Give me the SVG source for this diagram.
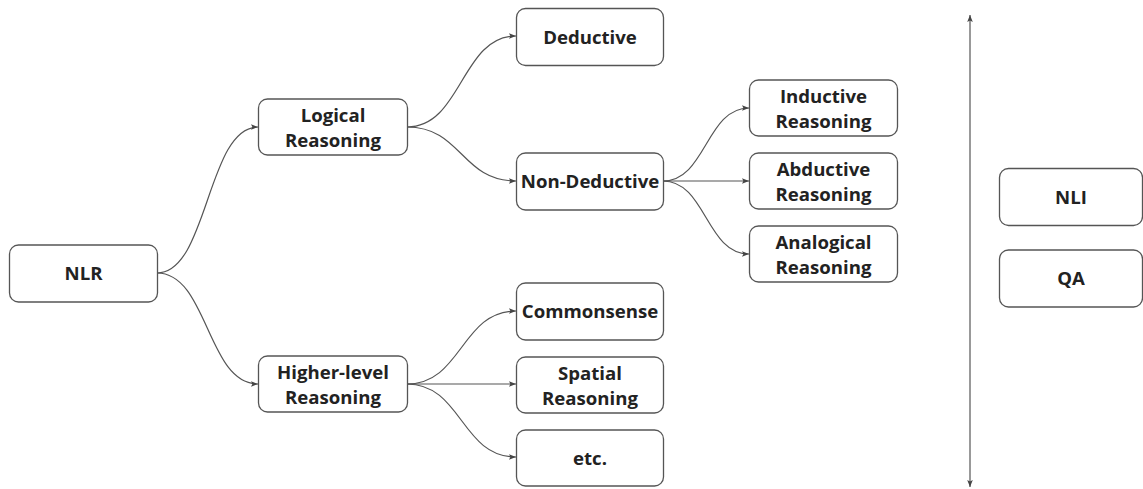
<svg xmlns="http://www.w3.org/2000/svg" width="1143" height="489" viewBox="0 0 1143 489">
<style>
.box{fill:#fff;stroke:#555;stroke-width:1.3}
.t{font-family:"Open Sans","Noto Sans",sans-serif;font-weight:700;font-size:18.6px;fill:#222;text-anchor:middle}
.c{fill:none;stroke:#555;stroke-width:1.2}
</style>
<defs>
<marker id="ah" viewBox="0 0 10 10" refX="10" refY="5" markerWidth="7" markerHeight="7" orient="auto-start-reverse" markerUnits="userSpaceOnUse">
<path d="M0,1 L10,5 L0,9 L2,5 z" fill="#444"/>
</marker>
</defs>
<rect width="1143" height="489" fill="#fff"/>
<g id="connectors">
<path class="c" marker-end="url(#ah)" d="M157,273 C208,273 207,127 258,127"/>
<path class="c" marker-end="url(#ah)" d="M157,273 C208,273 207,384 258,384"/>
<path class="c" marker-end="url(#ah)" d="M407,127 C462,127 461,36 516,36"/>
<path class="c" marker-end="url(#ah)" d="M407,127 C462,127 461,181 516,181"/>
<path class="c" marker-end="url(#ah)" d="M663,181 C706,181 706,108 749,108"/>
<path class="c" marker-end="url(#ah)" d="M663,181 L749,181"/>
<path class="c" marker-end="url(#ah)" d="M663,181 C706,181 706,254 749,254"/>
<path class="c" marker-end="url(#ah)" d="M407,384 C462,384 461,311 516,311"/>
<path class="c" marker-end="url(#ah)" d="M407,384 L516,384"/>
<path class="c" marker-end="url(#ah)" d="M407,384 C462,384 461,457 516,457"/>
<path class="c" marker-start="url(#ah)" marker-end="url(#ah)" d="M970,15 L970,487"/>
</g>
<g id="nlr"><rect class="box" x="9.5" y="245" width="148" height="57" rx="9"/><text class="t" x="83.5" y="280">NLR</text></g>
<g id="logical"><rect class="box" x="258.5" y="99" width="149" height="56" rx="9"/><text class="t" x="333" y="122">Logical</text><text class="t" x="333" y="147">Reasoning</text></g>
<g id="higher"><rect class="box" x="258.5" y="356" width="149" height="56" rx="9"/><text class="t" x="333" y="379">Higher-level</text><text class="t" x="333" y="404">Reasoning</text></g>
<g id="deductive"><rect class="box" x="516.5" y="8.5" width="147" height="57" rx="9"/><text class="t" x="590" y="43.5">Deductive</text></g>
<g id="nondeductive"><rect class="box" x="516.5" y="153" width="147" height="57" rx="9"/><text class="t" x="590" y="188">Non-Deductive</text></g>
<g id="commonsense"><rect class="box" x="516.5" y="283" width="147" height="57" rx="9"/><text class="t" x="590" y="318">Commonsense</text></g>
<g id="spatial"><rect class="box" x="516.5" y="357" width="147" height="56" rx="9"/><text class="t" x="590" y="380">Spatial</text><text class="t" x="590" y="405">Reasoning</text></g>
<g id="etc"><rect class="box" x="516.5" y="430" width="147" height="56" rx="9"/><text class="t" x="590" y="464.5">etc.</text></g>
<g id="inductive"><rect class="box" x="749.5" y="80" width="148" height="56" rx="9"/><text class="t" x="823.5" y="103">Inductive</text><text class="t" x="823.5" y="128">Reasoning</text></g>
<g id="abductive"><rect class="box" x="749.5" y="153" width="148" height="56" rx="9"/><text class="t" x="823.5" y="176">Abductive</text><text class="t" x="823.5" y="201">Reasoning</text></g>
<g id="analogical"><rect class="box" x="749.5" y="226" width="148" height="56" rx="9"/><text class="t" x="823.5" y="249">Analogical</text><text class="t" x="823.5" y="274">Reasoning</text></g>
<g id="nli"><rect class="box" x="999.5" y="168.5" width="143" height="57" rx="9"/><text class="t" x="1071" y="203.5">NLI</text></g>
<g id="qa"><rect class="box" x="999.5" y="250" width="143" height="57" rx="9"/><text class="t" x="1071" y="285">QA</text></g>
</svg>
